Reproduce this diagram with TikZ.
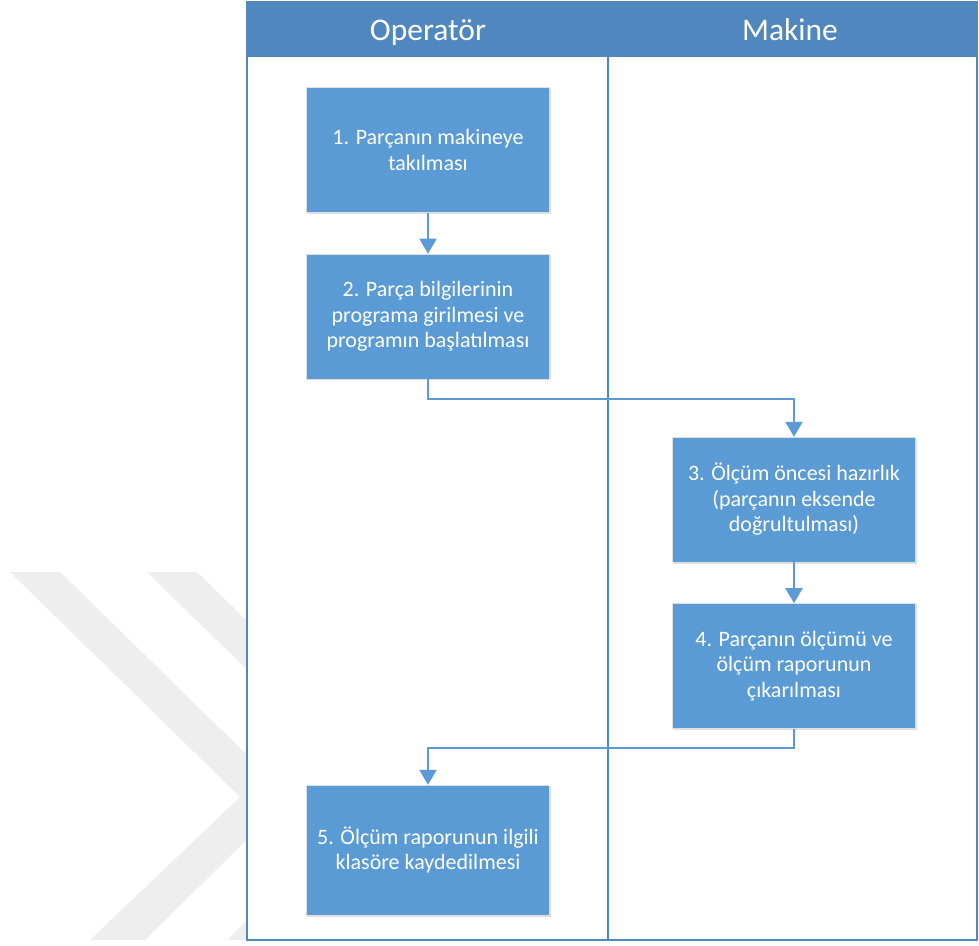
\documentclass[tikz,border=0pt]{standalone}
\usepackage{fontspec}
\setmainfont{Carlito}
\usetikzlibrary{arrows.meta,shadows,positioning}
\definecolor{headblue}{RGB}{79,135,190}
\definecolor{boxblue}{RGB}{91,155,213}
\definecolor{wmgray}{RGB}{238,238,238}
\tikzset{
  procbox/.style={draw=gray!25, fill=boxblue, text=white, minimum width=243pt,
    minimum height=125pt, align=center, font=\fontsize{22}{25.5}\selectfont,
    drop shadow={shadow xshift=1.5pt, shadow yshift=-1.5pt, opacity=0.25}},
  flow/.style={draw=boxblue, line width=2pt, -{Triangle[width=17pt,length=15pt]}},
  lanehead/.style={text=white, anchor=base, font=\fontsize{31.5}{36}\selectfont}
}

\begin{document}
\begin{tikzpicture}[x=1pt,y=-1pt]
\useasboundingbox (0,0) rectangle (979,945);
% watermark
\fill[wmgray] (10,572) -- (60,572) -- (290,797) -- (145,940) -- (90,940) -- (240,797) -- cycle;
\fill[wmgray] (147,572) -- (197,572) -- (427,797) -- (282,940) -- (227,940) -- (377,797) -- cycle;
% lanes
\fill[white] (247,2) rectangle (977,940);
\fill[headblue] (247,2) rectangle (977,57);
\draw[headblue, line width=2pt] (247,2) rectangle (977,940);
\draw[headblue, line width=2pt] (608,2) -- (608,940);
\node[lanehead] (op) at (428,40) {Operatör};
\node[lanehead] (mk) at (790,40) {Makine};
% steps
\node[procbox] (b1) at (428,150) {1. Parçanın makineye\\takılması};
\node[procbox, below=41pt of b1] (b2) {2. Parça bilgilerinin\\programa girilmesi ve\\programın başlatılması};
\node[procbox] (b3) at (794,499.5) {3. Ölçüm öncesi hazırlık\\(parçanın eksende\\doğrultulması)};
\node[procbox, below=41pt of b3] (b4) {4. Parçanın ölçümü ve\\ölçüm raporunun\\çıkarılması};
\node[procbox, minimum height=130pt] (b5) at (428,850) {5. Ölçüm raporunun ilgili\\klasöre kaydedilmesi};
% flows
\draw[flow] (b1) -- (b2);
\draw[flow] (b2.south) -- ++(0,20) -| (b3.north);
\draw[flow] (b3) -- (b4);
\draw[flow] (b4.south) -- ++(0,19) -| (b5.north);
\end{tikzpicture}
\end{document}
